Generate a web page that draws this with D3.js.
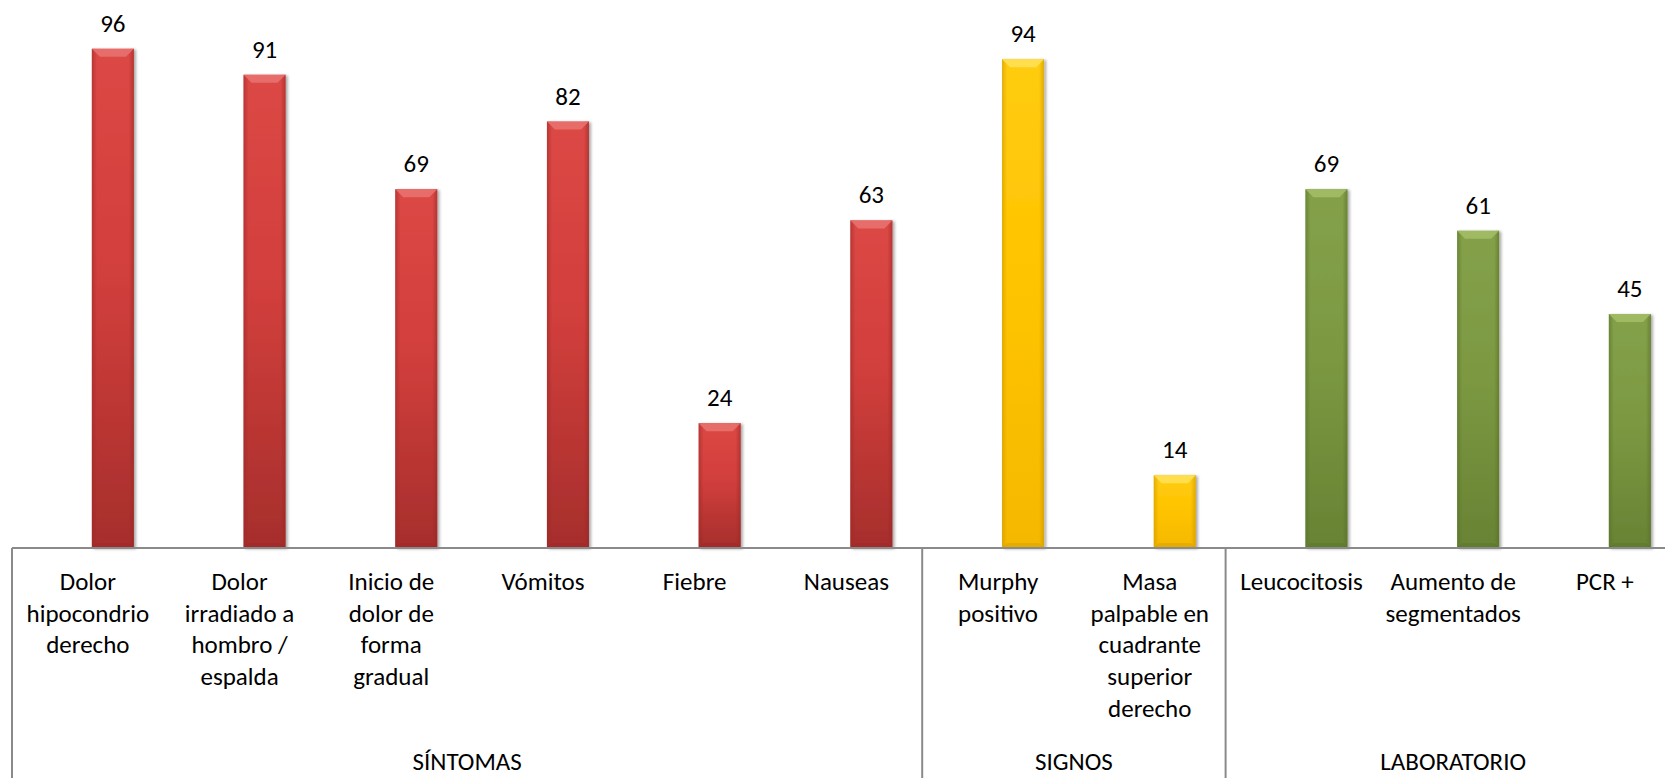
<!DOCTYPE html>
<html>
<head>
<meta charset="utf-8">
<script src="https://cdn.jsdelivr.net/npm/d3@7"></script>
<style>
  html, body { margin: 0; padding: 0; background: #fff; }
  svg { display: block; }
  text { font-family: Carlito, Calibri, Lato, sans-serif; fill: #000; }
</style>
</head>
<body>
<svg id="chart" width="1665" height="778"></svg>
<script>
// Category labels (line by line), values and groups
const categories = [
  ["Dolor", "hipocondrio", "derecho"],
  ["Dolor", "irradiado a", "hombro /", "espalda"],
  ["Inicio de", "dolor de", "forma", "gradual"],
  ["Vómitos"],
  ["Fiebre"],
  ["Nauseas"],
  ["Murphy", "positivo"],
  ["Masa", "palpable en", "cuadrante", "superior", "derecho"],
  ["Leucocitosis"],
  ["Aumento de", "segmentados"],
  ["PCR +"]
];
const values = [96, 91, 69, 82, 24, 63, 94, 14, 69, 61, 45];
const groupNames = ["SÍNTOMAS", "SIGNOS", "LABORATORIO"];
const groupSizes = [6, 2, 3];

const palettes = {
  "SÍNTOMAS":    { top: "#dc4845", mid: "#d23f3c", bottom: "#a62e2c", bevel: "#e8716e", edge: "#9a2826" },
  "SIGNOS":      { top: "#ffcc12", mid: "#ffc400", bottom: "#f5b800", bevel: "#ffe154", edge: "#c99500" },
  "LABORATORIO": { top: "#84a14a", mid: "#7c9942", bottom: "#688334", bevel: "#a2bd66", edge: "#566e27" }
};

// group of each category
const catGroup = [];
groupSizes.forEach((n, gi) => { for (let i = 0; i < n; i++) catGroup.push(groupNames[gi]); });

const svg = d3.select("#chart");
const baseY = 548;
const axisLeft = 12;
const step = 151.7;
const barW = 42;
const barShift = 25;

const x = d3.scaleBand()
  .domain(d3.range(categories.length))
  .range([axisLeft, axisLeft + step * categories.length])
  .paddingInner(0).paddingOuter(0);

const y = d3.scaleLinear().domain([0, 100]).range([baseY, 28]);

// gradients per group
const defs = svg.append("defs");
groupNames.forEach((g, gi) => {
  const p = palettes[g];
  const lg = defs.append("linearGradient").attr("id", "fill" + gi)
    .attr("x1", 0).attr("y1", 0).attr("x2", 0).attr("y2", 1);
  lg.append("stop").attr("offset", "0%").attr("stop-color", p.top);
  lg.append("stop").attr("offset", "45%").attr("stop-color", p.mid);
  lg.append("stop").attr("offset", "100%").attr("stop-color", p.bottom);
  const hg = defs.append("linearGradient").attr("id", "side" + gi)
    .attr("x1", 0).attr("y1", 0).attr("x2", 1).attr("y2", 0);
  hg.append("stop").attr("offset", "0%").attr("stop-color", p.edge).attr("stop-opacity", 0.55);
  hg.append("stop").attr("offset", "12%").attr("stop-color", p.edge).attr("stop-opacity", 0);
  hg.append("stop").attr("offset", "88%").attr("stop-color", p.edge).attr("stop-opacity", 0);
  hg.append("stop").attr("offset", "100%").attr("stop-color", p.edge).attr("stop-opacity", 0.6);
});
const shadow = defs.append("filter").attr("id", "shadow")
  .attr("x", "-30%").attr("y", "-10%").attr("width", "160%").attr("height", "120%");
shadow.append("feGaussianBlur").attr("in", "SourceAlpha").attr("stdDeviation", 1.5).attr("result", "b");
shadow.append("feOffset").attr("in", "b").attr("dx", 1.5).attr("dy", 1).attr("result", "o");
shadow.append("feComponentTransfer").attr("in", "o").attr("result", "s")
  .append("feFuncA").attr("type", "linear").attr("slope", 0.35);
const mg = shadow.append("feMerge");
mg.append("feMergeNode").attr("in", "s");
mg.append("feMergeNode").attr("in", "SourceGraphic");

const data = values.map((v, i) => ({ i, v, g: catGroup[i], gi: groupNames.indexOf(catGroup[i]) }));

const barX = d => x(d.i) + x.bandwidth() / 2 + barShift - barW / 2;

const bars = svg.append("g").selectAll("g.bar").data(data).join("g")
  .attr("class", "bar")
  .attr("filter", "url(#shadow)");

bars.append("rect")
  .attr("x", barX)
  .attr("y", d => y(d.v))
  .attr("width", barW)
  .attr("height", d => y(0) - y(d.v))
  .attr("fill", d => "url(#fill" + d.gi + ")");

bars.append("rect")
  .attr("x", barX)
  .attr("y", d => y(d.v))
  .attr("width", barW)
  .attr("height", d => y(0) - y(d.v))
  .attr("fill", d => "url(#side" + d.gi + ")");

// top bevel
const bev = 8;
bars.append("path")
  .attr("d", d => {
    const x0 = barX(d), x1 = x0 + barW, t = y(d.v);
    return `M${x0},${t}L${x1},${t}L${x1 - bev},${t + bev}L${x0 + bev},${t + bev}Z`;
  })
  .attr("fill", d => palettes[d.g].bevel)
  .attr("opacity", 0.9);

// bottom bevel shade
bars.append("path")
  .attr("d", d => {
    const x0 = barX(d), x1 = x0 + barW, b = y(0);
    return `M${x0},${b}L${x1},${b}L${x1 - 5},${b - 5}L${x0 + 5},${b - 5}Z`;
  })
  .attr("fill", d => palettes[d.g].edge)
  .attr("opacity", 0.35);

// value labels
svg.append("g").selectAll("text").data(data).join("text")
  .attr("x", d => barX(d) + barW / 2)
  .attr("y", d => y(d.v) - 17)
  .attr("text-anchor", "middle")
  .style("font-size", "25px")
  .text(d => d.v);

// axis line
const axisColor = "#8a8a8a";
svg.append("line")
  .attr("x1", axisLeft).attr("x2", 1665)
  .attr("y1", baseY).attr("y2", baseY)
  .attr("stroke", axisColor).attr("stroke-width", 2);

// group boundaries
const bounds = [0];
groupSizes.reduce((acc, n) => { bounds.push(acc + n); return acc + n; }, 0);
svg.append("g").selectAll("line").data(bounds).join("line")
  .attr("x1", b => x.range()[0] + b * x.step())
  .attr("x2", b => x.range()[0] + b * x.step())
  .attr("y1", baseY).attr("y2", 778)
  .attr("stroke", axisColor).attr("stroke-width", 2);

// category labels
const lineH = 31.7;
svg.append("g").selectAll("text").data(categories).join("text")
  .attr("text-anchor", "middle")
  .style("font-size", "25px")
  .attr("transform", (d, i) => `translate(${x(i) + x.bandwidth() / 2},590)`)
  .selectAll("tspan").data(d => d).join("tspan")
  .attr("x", 0)
  .attr("y", (d, j) => j * lineH)
  .text(d => d);

// group labels
svg.append("g").selectAll("text").data(groupNames).join("text")
  .attr("text-anchor", "middle")
  .style("font-size", "25px")
  .attr("x", (g, gi) => x.range()[0] + (bounds[gi] + bounds[gi + 1]) / 2 * x.step())
  .attr("y", 770)
  .text(g => g);
</script>
</body>
</html>
